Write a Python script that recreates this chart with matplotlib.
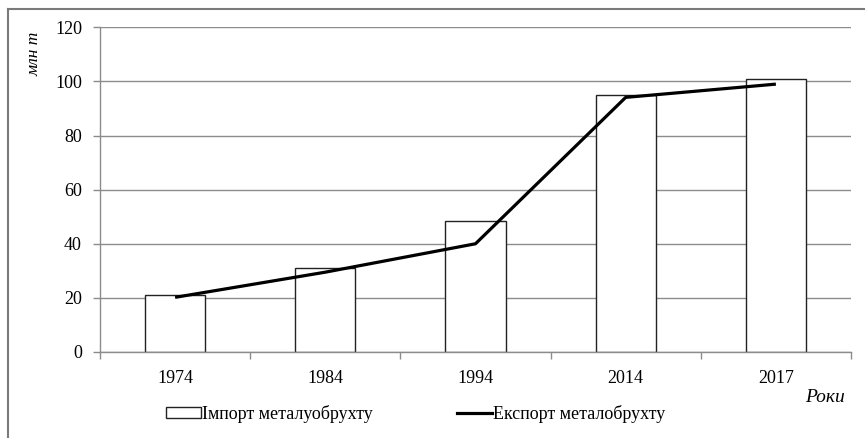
import matplotlib
matplotlib.use("Agg")
import matplotlib.pyplot as plt
from matplotlib.lines import Line2D
from matplotlib.patches import Patch
import numpy as np

years = ["1974", "1984", "1994", "2014", "2017"]
import_scrap = [21.2, 31.2, 48.4, 95.1, 100.8]
export_scrap = [20.2, 29.5, 40.0, 94.1, 99.0]
yticks = [0, 20, 40, 60, 80, 100, 120]

plt.rcParams['font.family'] = ['Liberation Serif', 'DejaVu Serif']

W, H = 865, 438
fig = plt.figure(figsize=(W / 100, H / 100), dpi=100)
ax = fig.add_axes([100 / W, 1 - 352 / H, (851 - 100) / W, (352 - 27.3) / H])

x = np.arange(len(years))
ax.bar(x, import_scrap, width=0.4, color='white', edgecolor='#222222', linewidth=1.0, zorder=2,
       label='Імпорт металуобрухту')
ax.plot(x, export_scrap, color='black', linewidth=2.3, zorder=3, label='Експорт металобрухту',
        solid_capstyle='butt')

ax.set_xlim(-0.5, len(years) - 0.5)
ax.set_ylim(0, 120)
ax.set_yticks(yticks)
ax.yaxis.grid(True, color='#8c8c8c', linewidth=1.0)
ax.set_axisbelow(True)

ax.set_xticks(x)
ax.set_xticklabels(years, fontsize=13)
ax.set_xticks(np.arange(-0.5, len(years), 1.0), minor=True)
ax.tick_params(axis='x', which='major', length=0, pad=13)
ax.tick_params(axis='x', which='minor', length=5, color='#8c8c8c', width=1)
ax.tick_params(axis='y', length=5, color='#8c8c8c', width=1, labelsize=13, pad=8)

for s in ['top', 'right']:
    ax.spines[s].set_visible(False)
for s in ['left', 'bottom']:
    ax.spines[s].set_color('#8c8c8c')
    ax.spines[s].set_linewidth(1.0)

fig.text(35 / W, 1 - 54 / H, 'млн т', rotation=90, style='italic', fontsize=12.5,
         ha='center', va='center')
fig.text(845 / W, 1 - 397 / H, 'Роки', style='italic', fontsize=14, ha='right', va='center')

handles = [Patch(facecolor='white', edgecolor='#222222', linewidth=1.0),
           Line2D([0], [0], color='black', linewidth=2.3)]
labels = ['Імпорт металуобрухту', 'Експорт металобрухту']
fig.legend(handles, labels, loc='center left', bbox_to_anchor=(166 / W, 1 - 414 / H),
           ncol=2, frameon=False, fontsize=13, handlelength=1.95, handleheight=0.55,
           handletextpad=0.05, columnspacing=4.65, borderaxespad=0, borderpad=0)

fig.add_artist(Line2D([8 / W, 8 / W], [0, 1 - 9 / H], color='#7a7a7a', linewidth=1.5))
fig.add_artist(Line2D([8 / W, 1], [1 - 9 / H, 1 - 9 / H], color='#7a7a7a', linewidth=1.5))

fig.savefig('out.png', dpi=100)
